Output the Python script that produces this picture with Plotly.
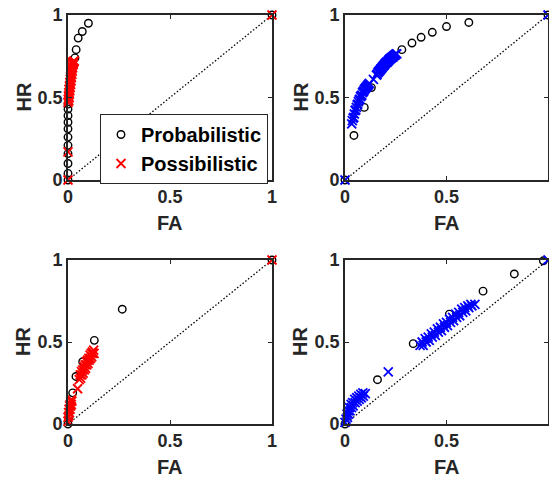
import plotly.graph_objects as go

# ---------------- data ----------------
# Panel 1 (top-left)
p1_prob_fa = [0, 0, 0, 0, 0, 0, 0, 0, 0, 0, 0, 0.034, 0.04, 0.05, 0.07, 0.10, 1.0]
p1_prob_hr = [0, 0.04, 0.10, 0.16, 0.21, 0.26, 0.31, 0.35, 0.39, 0.43, 0.46, 0.74, 0.79, 0.86, 0.90, 0.95, 1.0]
p1_poss_fa = [0, 0, 0.000, 0.004, 0.001, 0.006, 0.002, 0.007, 0.004, 0.009, 0.005, 0.011, 0.007, 0.013,
              0.009, 0.015, 0.011, 0.017, 0.013, 0.019, 0.015, 0.021, 0.017, 0.023, 0.019, 0.025,
              0.021, 0.027, 0.023, 0.029, 0.025, 0.031, 1.0]
p1_poss_hr = [0, 0.17, 0.47, 0.48, 0.49, 0.50, 0.51, 0.52, 0.53, 0.54, 0.55, 0.56, 0.57, 0.58,
              0.59, 0.60, 0.61, 0.62, 0.63, 0.64, 0.65, 0.66, 0.67, 0.68, 0.69, 0.70,
              0.705, 0.71, 0.715, 0.72, 0.70, 0.72, 1.0]

# Panel 2 (top-right)
p2_prob_fa = [0, 0.044, 0.095, 0.13, 0.28, 0.33, 0.375, 0.43, 0.50, 0.61, 1.0]
p2_prob_hr = [0, 0.27, 0.44, 0.56, 0.79, 0.83, 0.865, 0.895, 0.93, 0.955, 1.0]
p2_poss_fa = [0,
              0.033, 0.036, 0.040, 0.043, 0.046, 0.050, 0.053, 0.056, 0.060, 0.063, 0.066,
              0.070, 0.073, 0.076, 0.080, 0.083, 0.086, 0.090, 0.093, 0.096, 0.100, 0.103,
              0.106, 0.110, 0.113, 0.116, 0.120,
              0.140,
              0.155, 0.158, 0.162, 0.165, 0.168, 0.172, 0.175, 0.178, 0.182, 0.185, 0.188,
              0.192, 0.195, 0.198, 0.202, 0.205, 0.208, 0.212, 0.215, 0.218, 0.222, 0.225,
              0.228, 0.232, 0.235, 0.238, 0.242, 0.245, 0.248, 0.252, 0.255,
              1.0]
p2_poss_hr = [0,
              0.34, 0.36, 0.375, 0.38, 0.40, 0.42, 0.425, 0.44, 0.455, 0.46, 0.475,
              0.485, 0.49, 0.505, 0.51, 0.515, 0.53, 0.535, 0.54, 0.55, 0.555, 0.56,
              0.565, 0.57, 0.575, 0.58, 0.585,
              0.61,
              0.635, 0.64, 0.65, 0.655, 0.66, 0.665, 0.67, 0.675, 0.68, 0.685, 0.69,
              0.695, 0.70, 0.705, 0.71, 0.715, 0.715, 0.72, 0.725, 0.73, 0.735, 0.735,
              0.74, 0.745, 0.745, 0.75, 0.755, 0.755, 0.76, 0.765, 0.765,
              1.0]

# Panel 3 (bottom-left)
p3_prob_fa = [0, 0.005, 0.023, 0.039, 0.072, 0.129, 0.266, 1.0]
p3_prob_hr = [0, 0.045, 0.19, 0.29, 0.38, 0.51, 0.70, 1.0]
p3_poss_fa = [0, 0.000, 0.004, 0.003, 0.007, 0.005, 0.010, 0.008, 0.013, 0.011, 0.016, 0.014, 0.019, 0.017,
              0.047,
              0.055, 0.062, 0.060, 0.068, 0.066, 0.074, 0.072, 0.080, 0.078, 0.086, 0.084, 0.092,
              0.090, 0.098, 0.096, 0.104, 0.102, 0.110, 0.108, 0.116, 0.114, 0.122, 0.120, 0.128, 0.126, 1.0]
p3_poss_hr = [0.016, 0.04, 0.05, 0.07, 0.07, 0.09, 0.09, 0.11, 0.11, 0.12, 0.12, 0.14, 0.14, 0.15,
              0.215,
              0.27, 0.28, 0.30, 0.30, 0.32, 0.31, 0.33, 0.33, 0.35, 0.34, 0.36, 0.36,
              0.38, 0.37, 0.39, 0.39, 0.40, 0.40, 0.42, 0.41, 0.43, 0.43, 0.44, 0.43, 0.45, 1.0]

# Panel 4 (bottom-right)
p4_prob_fa = [0, 0.16, 0.336, 0.514, 0.68, 0.834, 0.977]
p4_prob_hr = [0, 0.27, 0.49, 0.67, 0.81, 0.915, 0.995]
p4_poss_fa = [0, 0.005, 0.012, 0.010, 0.018, 0.016, 0.025, 0.022, 0.032, 0.030, 0.040, 0.038, 0.050,
              0.048, 0.060, 0.058, 0.070, 0.068, 0.080, 0.078, 0.090, 0.088, 0.100,
              0.213,
              0.370, 0.385, 0.380, 0.400, 0.395, 0.415, 0.410, 0.430, 0.425, 0.445, 0.440, 0.460,
              0.455, 0.475, 0.470, 0.490, 0.485, 0.505, 0.500, 0.520, 0.515, 0.535, 0.530,
              0.550, 0.545, 0.565, 0.560, 0.580, 0.575, 0.595, 0.590, 0.610, 0.605, 0.625, 0.620, 0.640, 1.0]
p4_poss_hr = [0.01, 0.03, 0.04, 0.06, 0.06, 0.08, 0.08, 0.10, 0.10, 0.12, 0.11, 0.13, 0.13,
              0.15, 0.14, 0.16, 0.15, 0.17, 0.16, 0.18, 0.17, 0.19, 0.185,
              0.318,
              0.48, 0.48, 0.50, 0.50, 0.52, 0.51, 0.53, 0.53, 0.55, 0.54, 0.56, 0.56,
              0.58, 0.57, 0.59, 0.59, 0.61, 0.60, 0.62, 0.62, 0.64, 0.63, 0.65,
              0.65, 0.67, 0.66, 0.68, 0.68, 0.70, 0.69, 0.71, 0.71, 0.72, 0.72, 0.73, 0.73, 1.0]

panels = [
    (p1_prob_fa, p1_prob_hr, p1_poss_fa, p1_poss_hr, "red"),
    (p2_prob_fa, p2_prob_hr, p2_poss_fa, p2_poss_hr, "blue"),
    (p3_prob_fa, p3_prob_hr, p3_poss_fa, p3_poss_hr, "red"),
    (p4_prob_fa, p4_prob_hr, p4_poss_fa, p4_poss_hr, "blue"),
]
tick_vals = [0, 0.5, 1]
tick_text = ["0", "0.5", "1"]
legend_names = ["Probabilistic", "Possibilistic"]
x_title = "FA"
y_title = "HR"

# ---------------- layout geometry (pixels) ----------------
W, H = 549, 479
col_px = [(68, 272), (345, 548)]
row_px = [(15, 180), (260, 424)]
FONT = "Liberation Sans"
AX = "#262626"

fig = go.Figure()
layout = dict(width=W, height=H, margin=dict(l=0, r=0, t=0, b=0, autoexpand=False),
              paper_bgcolor="white", plot_bgcolor="white", annotations=[])

for i, (pfa, phr, qfa, qhr, col) in enumerate(panels):
    r, c = divmod(i, 2)
    xs = "" if i == 0 else str(i + 1)
    xa, ya = "x" + xs, "y" + xs
    x0, x1 = col_px[c]
    y0, y1 = row_px[r]
    xdom = [x0 / W, x1 / W]
    ydom = [1 - y1 / H, 1 - y0 / H]
    axis_common = dict(range=[0, 1], tickvals=tick_vals, ticktext=tick_text,
                       ticks="inside", ticklen=4, tickwidth=1, tickcolor=AX,
                       showline=True, linecolor=AX, linewidth=1.6, mirror="ticks",
                       showgrid=False, zeroline=False, automargin=False,
                       tickfont=dict(family=FONT, size=18, color=AX, weight="bold"))
    layout["xaxis" + xs] = dict(domain=xdom, anchor=ya, **axis_common)
    layout["yaxis" + xs] = dict(domain=ydom, anchor=xa, **axis_common)

    fig.add_trace(go.Scatter(x=[0, 1], y=[0, 1], mode="lines", xaxis=xa, yaxis=ya,
                             line=dict(color="black", width=1.3, dash="1.5px,2px"),
                             showlegend=False, hoverinfo="skip"))
    fig.add_trace(go.Scatter(x=pfa, y=phr, mode="markers", xaxis=xa, yaxis=ya,
                             name=legend_names[0], showlegend=(i == 0),
                             marker=dict(symbol="circle-open", size=7.5, color="black",
                                         line=dict(width=1.4, color="black")),
                             cliponaxis=False))
    fig.add_trace(go.Scatter(x=qfa, y=qhr, mode="markers", xaxis=xa, yaxis=ya,
                             name=legend_names[1], showlegend=(i == 0),
                             marker=dict(symbol="x-thin-open", size=9, color=col,
                                         line=dict(width=1.8, color=col)),
                             cliponaxis=False))

    # axis titles
    layout["annotations"].append(dict(text=x_title, xref="paper", yref="paper",
                                      x=(x0 + x1) / 2 / W, y=1 - (y1 + 43) / H,
                                      xanchor="center", yanchor="middle", showarrow=False,
                                      font=dict(family=FONT, size=20, color=AX, weight="bold")))
    layout["annotations"].append(dict(text=y_title, xref="paper", yref="paper",
                                      x=(x0 - 45) / W, y=1 - (y0 + y1) / 2 / H, textangle=-90,
                                      xanchor="center", yanchor="middle", showarrow=False,
                                      font=dict(family=FONT, size=20, color=AX, weight="bold")))

layout["legend"] = dict(x=100 / W, y=1 - 114 / H, xanchor="left", yanchor="top",
                        bgcolor="white", bordercolor=AX, borderwidth=1,
                        font=dict(family=FONT, size=20, color="black", weight="bold"),
                        itemwidth=30, tracegroupgap=0)
fig.update_layout(**layout)
fig.write_html("out.html", config={"displayModeBar": False},
               post_script="document.body.style.margin='0';document.body.style.overflow='hidden';")
